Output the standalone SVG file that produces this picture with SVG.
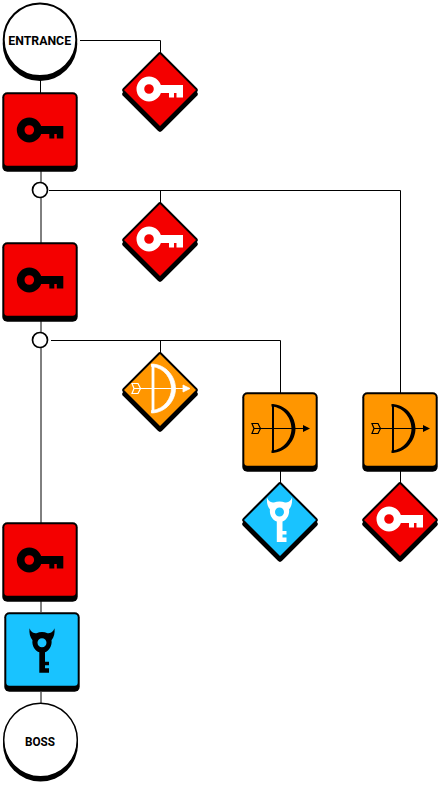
<svg xmlns="http://www.w3.org/2000/svg" xmlns:xlink="http://www.w3.org/1999/xlink" width="441" height="785" viewBox="0 0 441 785">
<style>
.ln{fill:none;stroke:#000;stroke-width:1}
.ent{font-family:"Roboto","Liberation Sans",sans-serif;font-weight:700;font-size:13px;fill:#000;text-anchor:middle}
.red{fill:#f40000}.org{fill:#ff9600}.blu{fill:#19c3ff}
.k{color:#000}.w{color:#fff}
</style>
<defs>
<rect id="room" x="-37.700" y="-37.700" width="75.400" height="79.400" rx="5" fill="#000"/>
<rect id="rf" x="-35.700" y="-35.700" width="71.400" height="71.400" rx="3"/>
<path id="dia" d="M0-34.700L34.700 0L0 34.700L-34.700 0Z" fill="#000" stroke="#000" stroke-width="6" stroke-linejoin="round"/>
<path id="df" d="M0-36L36 0L0 36L-36 0Z"/>
<g id="key"><path fill="currentColor" fill-rule="evenodd" d="M-12.500 0a12.500 12.500 0 1 0 25 0a12.500 12.500 0 1 0-25 0ZM-4.800 0a4.800 4.800 0 1 1 9.600 0a4.800 4.800 0 1 1-9.600 0Z"/><path fill="currentColor" d="M9-4H34V8.500H27.500V4H25V8.500H20V4H9Z"/></g>
<g id="bow"><path fill="currentColor" d="M-8.500-24.500C7-24 15.500-11 15.500 0S7 24-8.500 24.500V22C5 21 11.500 9 11.500 0S5-21-8.500-22Z"/><rect x="-8" y="-24" width="2" height="48" fill="currentColor"/><path stroke="currentColor" stroke-width="1" fill="none" d="M-20 0H24"/><path fill="currentColor" d="M23-3.500L30 0L23 3.500Z"/><path fill="none" stroke="currentColor" stroke-width="1.200" d="M-28-5H-22L-19.500 0L-22 5H-28L-26 0ZM-26 0H-19.500"/></g>
<g id="demon"><path fill="currentColor" fill-rule="evenodd" d="M-12.500-14.500C-11-10.500-8.500-9.500-5.500-9.500C-2-11 2-11 5.500-9.500C8.500-9.500 11-10.500 12.500-14.500C13-9.500 12-5.500 9.500-2.500C10.500 3 6.500 8.500 3 9.500V19H7V22.500H3V25.500H7V30H-2.700V9.500C-6.500 8.500-10.500 3-9.500-2.500C-12-5.500-13-9.500-12.500-14.500ZM-4.500 0a4.500 4.500 0 1 0 9 0a4.500 4.500 0 1 0-9 0Z"/></g>
</defs>
<g id="connectors">
<path class="ln" d="M40.500 78V93"/>
<path class="ln" d="M80 40.500H160.500V53"/>
<path class="ln" d="M41 171V182M41 198V243M41 321V332M41 348V523M41 601V612M41 692V703"/>
<path class="ln" d="M49 190.500H400.500V393M160.500 190.500V203"/>
<path class="ln" d="M51 340.500H280.500V393M160.500 340.500V353"/>
<path class="ln" d="M280.500 471V483M400.500 471V483"/>
</g>
<g id="entrance"><circle cx="40" cy="43.700" r="37.300" fill="#000"/><circle cx="40" cy="39.700" r="36.300" fill="#fff" stroke="#000" stroke-width="2"/><text class="ent" x="39.700" y="44.700" textLength="62.700" lengthAdjust="spacingAndGlyphs">ENTRANCE</text></g>
<g id="room1" transform="translate(40 130)"><use xlink:href="#room"/><use xlink:href="#rf" class="red"/><use xlink:href="#key" x="-10.700" class="k"/></g>
<g id="dkey1" transform="translate(160 90)"><use xlink:href="#dia" y="4"/><use xlink:href="#dia"/><use xlink:href="#df" class="red"/><use xlink:href="#key" x="-11" y="-1" class="w"/></g>
<g id="junction1"><circle cx="40" cy="190" r="7.500" fill="#fff" stroke="#000" stroke-width="1.700"/></g>
<g id="dkey2" transform="translate(160 240)"><use xlink:href="#dia" y="4"/><use xlink:href="#dia"/><use xlink:href="#df" class="red"/><use xlink:href="#key" x="-11" y="-1" class="w"/></g>
<g id="room2" transform="translate(40 280)"><use xlink:href="#room"/><use xlink:href="#rf" class="red"/><use xlink:href="#key" x="-10.700" class="k"/></g>
<g id="junction2"><circle cx="40" cy="340" r="7.500" fill="#fff" stroke="#000" stroke-width="1.700"/></g>
<g id="dbow" transform="translate(160 390)"><use xlink:href="#dia" y="4"/><use xlink:href="#dia"/><use xlink:href="#df" class="org"/><use xlink:href="#bow" y="-1.500" class="w" stroke="#fff" stroke-width=".8"/></g>
<g id="room3" transform="translate(280 430)"><use xlink:href="#room"/><use xlink:href="#rf" class="org"/><use xlink:href="#bow" y="-1.500" class="k"/></g>
<g id="room4" transform="translate(400 430)"><use xlink:href="#room"/><use xlink:href="#rf" class="org"/><use xlink:href="#bow" y="-1.500" class="k"/></g>
<g id="ddemon" transform="translate(280 520)"><use xlink:href="#dia" y="4"/><use xlink:href="#dia"/><use xlink:href="#df" class="blu"/><use xlink:href="#demon" x="-.500" y="-8" class="w"/></g>
<g id="dkey3" transform="translate(400 520)"><use xlink:href="#dia" y="4"/><use xlink:href="#dia"/><use xlink:href="#df" class="red"/><use xlink:href="#key" x="-11" y="-1" class="w"/></g>
<g id="room5" transform="translate(40 560)"><use xlink:href="#room"/><use xlink:href="#rf" class="red"/><use xlink:href="#key" x="-10.700" class="k"/></g>
<g id="room6" transform="translate(42 650)"><use xlink:href="#room"/><use xlink:href="#rf" class="blu"/><use xlink:href="#demon" y="-7.300" class="k"/></g>
<g id="boss"><circle cx="40.500" cy="744" r="37.500" fill="#000"/><circle cx="40.500" cy="740" r="36.800" fill="#fff" stroke="#000" stroke-width="1.500"/><text class="ent" x="40" y="745.500" textLength="30" lengthAdjust="spacingAndGlyphs" style="font-size:12.500px">BOSS</text></g>
</svg>
